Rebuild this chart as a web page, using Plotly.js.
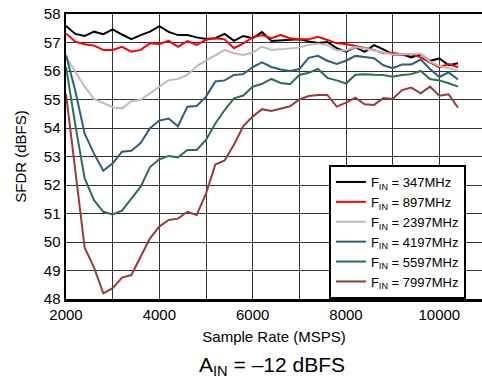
<!DOCTYPE html>
<html>
<head>
<meta charset="utf-8">
<script src="https://cdn.plot.ly/plotly-3.0.1.min.js"></script>
<style>html,body{margin:0;padding:0;background:#fff;}#chart{width:482px;height:379px;}</style>
</head>
<body>
<div id="chart"></div>
<script>
const sampleRate = [2000,2200,2400,2600,2800,3000,3200,3400,3600,3800,4000,4200,4400,4600,4800,5000,5200,5400,5600,5800,6000,6200,6400,6600,6800,7000,7200,7400,7600,7800,8000,8200,8400,8600,8800,9000,9200,9400,9600,9800,10000,10200,10400];

const sfdr347 = [57.58,57.30,57.23,57.38,57.29,57.46,57.28,57.12,57.26,57.38,57.57,57.37,57.26,57.26,57.18,57.12,57.15,57.30,57.06,57.23,57.15,57.37,57.05,57.07,57.11,57.11,57.04,56.98,57.02,56.80,56.68,56.84,56.67,56.91,56.76,56.58,56.59,56.48,56.59,56.35,56.44,56.20,56.27];
const sfdr897 = [57.32,57.03,56.94,56.89,56.74,56.74,56.85,56.68,56.74,56.97,56.95,57.06,56.85,57.05,56.92,57.10,57.15,57.11,56.80,56.97,57.18,57.26,57.15,57.26,57.15,57.11,57.11,57.20,57.09,56.97,56.95,56.88,56.80,56.74,56.62,56.64,56.58,56.59,56.48,56.30,56.13,56.24,56.13];
const sfdr2397 = [56.50,55.98,55.45,55.02,54.87,54.73,54.69,54.94,54.99,55.23,55.45,55.68,55.72,55.86,56.17,56.36,56.57,56.74,56.62,56.56,56.65,56.86,56.74,56.77,56.80,56.82,56.92,56.96,56.90,56.72,56.72,56.84,56.79,56.71,56.65,56.58,56.58,56.60,56.61,56.33,56.17,56.10,56.02];
const sfdr4197 = [56.56,55.30,53.80,53.10,52.50,52.76,53.17,53.20,53.47,53.99,54.26,54.33,54.06,54.75,54.77,55.10,55.63,55.67,55.86,55.89,56.14,56.30,56.14,56.05,56.00,56.07,56.46,56.53,56.36,56.25,56.36,56.53,56.49,56.45,56.20,56.10,56.23,56.23,56.40,56.07,55.79,55.95,55.70];
const sfdr5597 = [56.15,54.10,52.23,51.47,51.06,50.97,51.10,51.53,51.94,52.63,52.90,53.02,52.97,53.23,53.23,53.58,54.16,54.63,55.04,55.14,55.45,55.55,55.72,55.58,55.54,55.86,55.94,56.07,55.76,55.67,55.56,55.87,55.89,55.87,55.86,55.80,55.86,55.89,56.00,55.72,55.67,55.57,55.45];
const sfdr7997 = [55.20,52.40,49.80,49.11,48.20,48.38,48.75,48.84,49.48,50.13,50.54,50.77,50.82,51.06,50.95,51.70,52.72,52.86,53.42,54.07,54.40,54.66,54.60,54.68,54.76,55.00,55.12,55.16,55.16,54.75,54.89,55.06,54.83,54.81,55.05,55.02,55.33,55.42,55.22,55.45,55.13,55.18,54.71];

const seriesNames = ['F<sub>IN</sub> = 347MHz','F<sub>IN</sub> = 897MHz','F<sub>IN</sub> = 2397MHz','F<sub>IN</sub> = 4197MHz','F<sub>IN</sub> = 5597MHz','F<sub>IN</sub> = 7997MHz'];
const seriesColors = ['#000000','#ff0000','#bdbdbd','#2d5f7f','#2b7149','#9c3a3a'];
const seriesValues = [sfdr347, sfdr897, sfdr2397, sfdr4197, sfdr5597, sfdr7997];

const FONT = 'Liberation Sans, Arial, Helvetica, sans-serif';

const traces = seriesValues.map((vals, i) => ({
  x: sampleRate, y: vals, type: 'scatter', mode: 'lines',
  name: seriesNames[i],
  line: {color: seriesColors[i], width: 2}
}));

const layout = {
  width: 482, height: 379,
  margin: {l: 66, r: 0, t: 14, b: 80, autoexpand: false},
  paper_bgcolor: '#fff', plot_bgcolor: '#fff',
  font: {family: FONT, size: 15, color: '#000'},
  showlegend: true,
  legend: {
    x: 0.632, y: 0.0, xanchor: 'left', yanchor: 'bottom',
    bgcolor: '#fff', bordercolor: '#000', borderwidth: 2,
    font: {family: FONT, size: 13, color: '#000'},
    itemwidth: 30, tracegroupgap: 0
  },
  xaxis: {
    range: [2000, 10914], tick0: 2000, dtick: 2000, tickformat: 'd',
    showgrid: true, gridcolor: '#333', gridwidth: 1,
    minor: {dtick: 1000, showgrid: true, gridcolor: '#333', gridwidth: 1, ticks: ''},
    showline: true, linecolor: '#000', linewidth: 2.5, mirror: true,
    zeroline: false, ticks: '',
    tickfont: {family: FONT, size: 15},
    title: {text: 'Sample Rate (MSPS)', font: {family: FONT, size: 15}, standoff: 10}
  },
  yaxis: {
    range: [48, 58], dtick: 1,
    showgrid: true, gridcolor: '#333', gridwidth: 1,
    showline: true, linecolor: '#000', linewidth: 2.5, mirror: true,
    zeroline: false, ticks: '',
    tickfont: {family: FONT, size: 15},
    title: {text: 'SFDR (dBFS)', font: {family: FONT, size: 15}, standoff: 14}
  },
  annotations: [{
    text: 'A<sub>IN</sub> = \u201312 dBFS',
    xref: 'paper', yref: 'paper', x: 0.495, y: -0.235,
    xanchor: 'center', yanchor: 'middle', showarrow: false,
    font: {family: FONT, size: 21, color: '#000'}
  }]
};

Plotly.newPlot('chart', traces, layout, {displayModeBar: false, staticPlot: true});
</script>
</body>
</html>
